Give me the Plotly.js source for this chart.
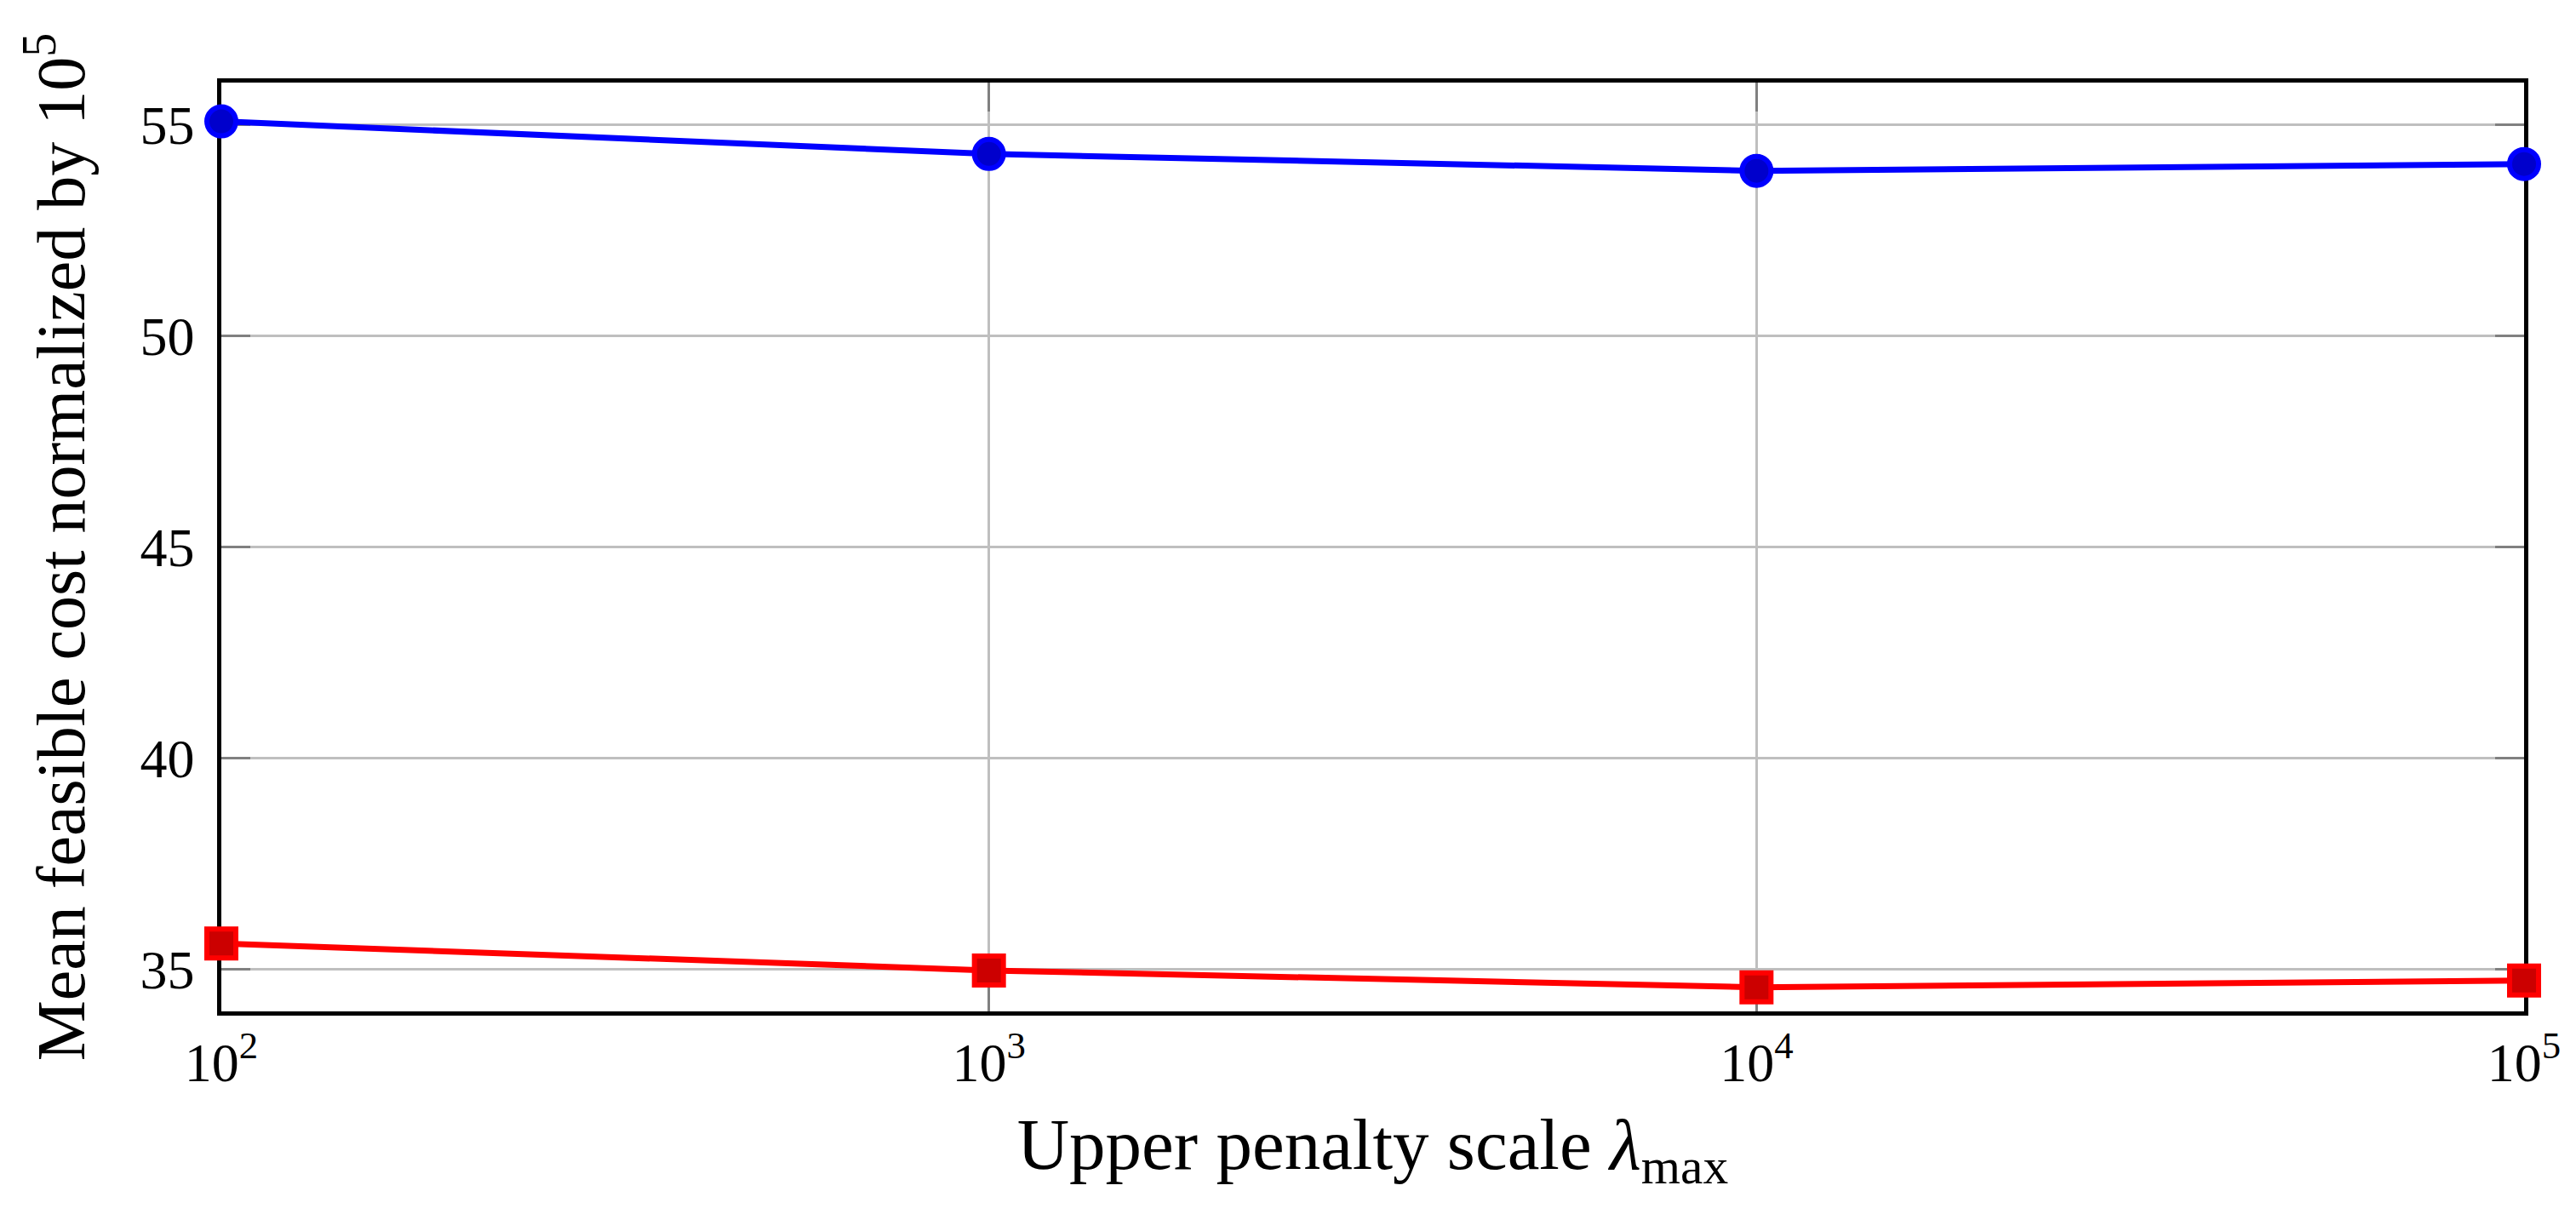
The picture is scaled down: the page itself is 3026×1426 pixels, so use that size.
<!DOCTYPE html>
<html>
<head>
<meta charset="utf-8">
<script src="https://cdn.plot.ly/plotly-3.0.1.min.js"></script>
<style>
  html, body { margin: 0; padding: 0; background: #ffffff; }
  #chart { width: 3026px; height: 1426px; }
</style>
</head>
<body>
<div id="chart"></div>
<script>
// penalty scale values (x, log axis)
var lambda_max = [100, 1000, 10000, 100000];
// mean feasible cost / 1e5
var cost_blue = [55.08, 54.31, 53.91, 54.07];
var cost_red = [35.61, 34.97, 34.57, 34.73];

var x_tickvals = [100, 1000, 10000, 100000];
var x_ticktext = ["10<sup>2</sup>", "10<sup>3</sup>", "10<sup>4</sup>", "10<sup>5</sup>"];
var y_tickvals = [35, 40, 45, 50, 55];

var serif = "'Liberation Serif', 'DejaVu Serif', serif";

var trace_blue = {
	x: lambda_max,
	y: cost_blue,
	type: "scatter",
	mode: "lines+markers",
	cliponaxis: false,
	line: { color: "#0000ff", width: 7 },
	marker: {
		symbol: "circle",
		size: 34,
		color: "#0000cc",
		line: { color: "#0000ff", width: 6 }
	}
};

var trace_red = {
	x: lambda_max,
	y: cost_red,
	type: "scatter",
	mode: "lines+markers",
	cliponaxis: false,
	line: { color: "#ff0000", width: 7 },
	marker: {
		symbol: "square",
		size: 34,
		color: "#cc0000",
		line: { color: "#ff0000", width: 6 }
	}
};

var layout = {
	width: 3026,
	height: 1426,
	showlegend: false,
	paper_bgcolor: "#ffffff",
	plot_bgcolor: "#ffffff",
	font: { family: serif, color: "#000000", size: 64 },
	margin: { l: 260, r: 61, t: 97, b: 238 },
	xaxis: {
		type: "log",
		range: [2, 5],
		tickvals: x_tickvals,
		ticktext: x_ticktext,
		tickfont: { family: serif, size: 64, color: "#000000" },
		ticks: "inside",
		ticklen: 34,
		tickwidth: 3,
		tickcolor: "#808080",
		ticklabelstandoff: 0,
		showgrid: true,
		gridcolor: "#bfbfbf",
		gridwidth: 3,
		zeroline: false,
		showline: true,
		linecolor: "#000000",
		linewidth: 4.5,
		mirror: "ticks",
		layer: "below traces",
		title: {
			text: "Upper penalty scale <i>λ</i><sub>max</sub>",
			font: { family: serif, size: 85, color: "#000000" },
			standoff: 32
		}
	},
	yaxis: {
		range: [34, 56],
		tickvals: y_tickvals,
		tickfont: { family: serif, size: 64, color: "#000000" },
		ticks: "inside",
		ticklen: 34,
		tickwidth: 3,
		tickcolor: "#808080",
		ticklabelstandoff: 14,
		showgrid: true,
		gridcolor: "#bfbfbf",
		gridwidth: 3,
		zeroline: false,
		showline: true,
		linecolor: "#000000",
		linewidth: 4.5,
		mirror: "ticks",
		layer: "below traces",
		title: {
			text: "Mean feasible cost normalized by 10<sup>5</sup>",
			font: { family: serif, size: 80, color: "#000000" },
			standoff: 40
		}
	}
};

var config = { displayModeBar: false };

Plotly.newPlot("chart", [trace_blue, trace_red], layout, config);
</script>
</body>
</html>
